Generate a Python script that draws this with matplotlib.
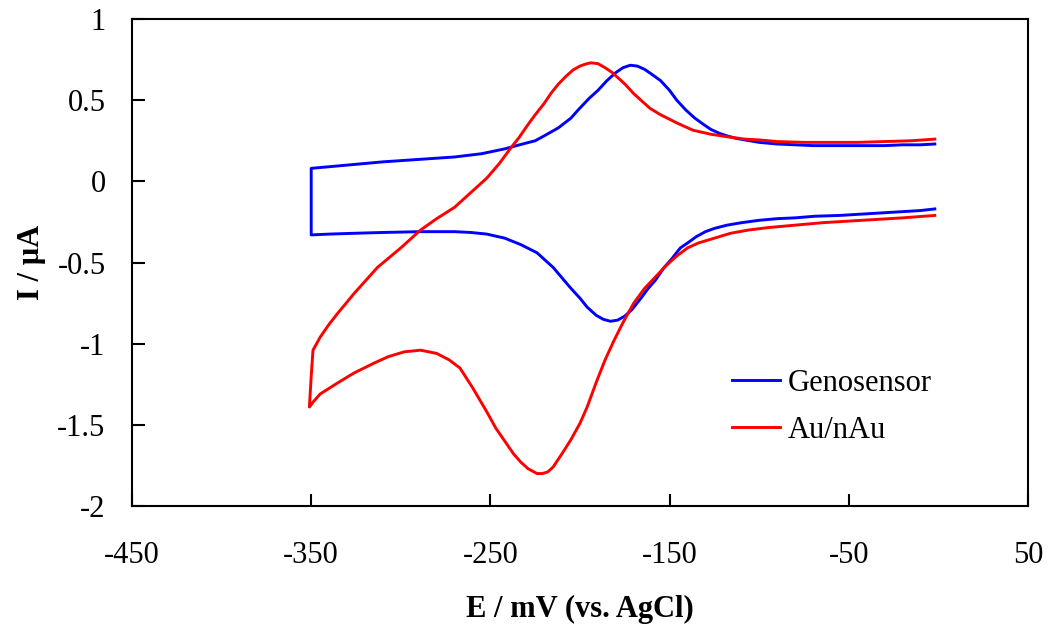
import numpy as np
import matplotlib
matplotlib.use('Agg')
import matplotlib.pyplot as plt

# Genosensor, upper branch (mV, uA)
geno_up_x = [-350, -330, -310, -290, -270, -255, -242, -232, -225, -220, -212, -205, -201, -195, -190, -185, -180, -176, -172,
             -168, -164, -160, -155, -150, -146, -141, -136, -131, -127, -122, -118, -113, -108, -100, -90, -80, -70, -60,
             -50, -40, -30, -20, -10, -2]
geno_up_y = [0.08, 0.10, 0.12, 0.135, 0.15, 0.17, 0.20, 0.23, 0.25, 0.28, 0.33, 0.39, 0.44, 0.51, 0.56, 0.62, 0.67, 0.70, 0.715,
             0.71, 0.69, 0.66, 0.62, 0.56, 0.50, 0.44, 0.39, 0.35, 0.32, 0.295, 0.28, 0.265, 0.255, 0.24, 0.23, 0.225, 0.22, 0.22,
             0.22, 0.22, 0.22, 0.225, 0.225, 0.23]
# Genosensor, lower branch
geno_lo_x = [-350, -340, -326, -310, -289, -270, -261, -252, -242, -233, -224, -215, -205, -200, -196, -191, -187, -183, -179,
             -175, -171, -166, -162, -158, -153, -149, -144, -140, -135, -130, -125, -118, -110, -100, -90, -80, -69, -55,
             -40, -25, -10, -2]
geno_lo_y = [-0.33, -0.325, -0.32, -0.315, -0.31, -0.31, -0.315, -0.325, -0.35, -0.39, -0.44, -0.53, -0.66, -0.72, -0.775, -0.825,
             -0.85, -0.862, -0.855, -0.83, -0.79, -0.72, -0.66, -0.61, -0.53, -0.48, -0.41, -0.38, -0.34, -0.31, -0.29, -0.27,
             -0.255, -0.24, -0.23, -0.225, -0.215, -0.21, -0.20, -0.19, -0.18, -0.17]

# Au/nAu, upper branch
au_up_x = [-351, -350, -349, -345, -340, -335, -326, -313, -300, -289, -280, -270, -261, -252, -245, -239, -234, -229, -225,
           -220, -216, -212, -208, -204, -200, -197, -194, -190, -186, -182, -179, -175, -170, -165, -161, -155, -146, -137,
           -127, -118, -108, -100, -90, -75, -60, -45, -30, -15, -2]
au_up_y = [-1.39, -1.2, -1.04, -0.96, -0.88, -0.81, -0.69, -0.53, -0.41, -0.30, -0.23, -0.16, -0.07, 0.02, 0.11, 0.20, 0.27,
           0.35, 0.41, 0.48, 0.545, 0.60, 0.645, 0.685, 0.71, 0.722, 0.73, 0.725, 0.70, 0.67, 0.64, 0.60, 0.54, 0.49, 0.45,
           0.41, 0.36, 0.315, 0.29, 0.275, 0.26, 0.255, 0.245, 0.24, 0.24, 0.24, 0.245, 0.25, 0.26]
# Au/nAu, lower branch
au_lo_x = [-351, -349, -345, -335, -326, -315, -307, -298, -289, -280, -273, -267, -260, -252, -247, -242, -237, -233, -229,
           -224, -221, -218, -215, -212, -209, -205, -200, -196, -191, -186, -181, -176, -170, -164, -158, -152, -146, -140,
           -134, -128, -122, -116, -106, -95, -80, -65, -50, -35, -20, -2]
au_lo_y = [-1.39, -1.36, -1.31, -1.24, -1.18, -1.12, -1.08, -1.05, -1.04, -1.06, -1.10, -1.15, -1.27, -1.42, -1.52, -1.60, -1.68,
           -1.73, -1.77, -1.80, -1.80, -1.79, -1.76, -1.71, -1.66, -1.59, -1.49, -1.39, -1.24, -1.10, -0.98, -0.87, -0.75, -0.66,
           -0.59, -0.52, -0.46, -0.41, -0.38, -0.36, -0.34, -0.32, -0.30, -0.285, -0.27, -0.255, -0.245, -0.235, -0.225, -0.21]

series = [('Genosensor', geno_up_x, geno_up_y, geno_lo_x, geno_lo_y, '#0000ff'),
          ('Au/nAu', au_up_x, au_up_y, au_lo_x, au_lo_y, '#ff0000')]

x_ticks = [-450, -350, -250, -150, -50, 50]
y_ticks = [-2, -1.5, -1, -0.5, 0, 0.5, 1]
y_labels = ['-2', '-1.5', '-1', '-0.5', '0', '0.5', '1']

plt.rcParams['font.family'] = ['Liberation Serif', 'DejaVu Serif']
fs = 22

fig = plt.figure(figsize=(10.51, 6.33), dpi=100)
ax = fig.add_axes([0.1256, 0.2006, 0.8525, 0.7694])

for name, ux, uy, lx, ly, c in series:
  # one continuous trace: upper branch back to the switching point, then lower branch
  xs = list(ux[::-1]) + list(lx)
  ys = list(uy[::-1]) + list(ly)
  ax.plot(xs, ys, color=c, lw=2.1, label=name)

ax.set_xlim(-450, 50)
ax.set_ylim(-2, 1)
ax.set_xticks(x_ticks)
ax.set_xticklabels([str(t) for t in x_ticks])
ax.set_yticks(y_ticks)
ax.set_yticklabels(y_labels)
ax.tick_params(direction='in', length=9, width=1.5, labelsize=fs)
ax.tick_params(axis='x', pad=25)
ax.tick_params(axis='y', pad=19)
for l in ['bottom', 'top', 'left', 'right']: ax.spines[l].set_linewidth(1.5)

ax.set_xlabel('E / mV (vs. AgCl)', fontsize=fs, fontweight='bold', labelpad=18)
ax.set_ylabel('I / \u00b5A', fontsize=fs, fontweight='bold', labelpad=8)

ax.legend(loc='center left', bbox_to_anchor=(0.6696, 0.2033), frameon=False, fontsize=fs,
          handlelength=1.57, handletextpad=0.26, labelspacing=0.58, borderpad=0, borderaxespad=0)

fig.savefig('out.png', dpi=100)
